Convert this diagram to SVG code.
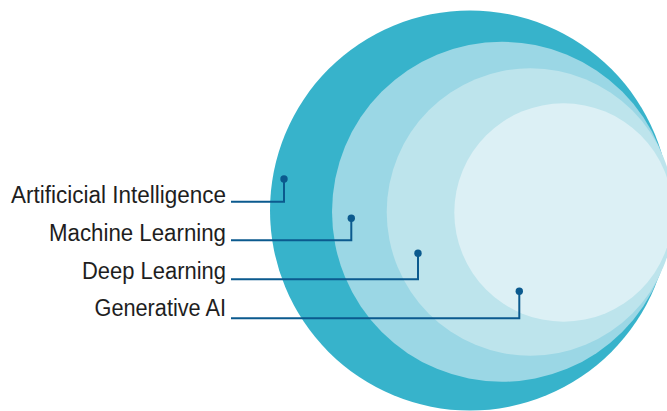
<svg xmlns="http://www.w3.org/2000/svg" width="667" height="411" viewBox="0 0 667 411">
  <style>
    .lbl { font-family: "Liberation Sans", Arial, sans-serif; font-size: 23.5px; fill: #1e1e1e; text-anchor: end; }
    .conn { fill: none; stroke: #0b5a8e; stroke-width: 2; }
    .dot { fill: #0b5a8e; }
  </style>
  <rect width="667" height="411" fill="#ffffff"/>
  <g id="ai">
    <circle cx="470" cy="210.5" r="200" fill="#37b3cb"/>
  </g>
  <g id="ml">
    <circle cx="502" cy="211.8" r="170" fill="#9bd7e5"/>
  </g>
  <g id="dl">
    <circle cx="530.5" cy="212" r="143.8" fill="#bde4ec"/>
  </g>
  <g id="genai">
    <circle cx="563.5" cy="212.5" r="109.2" fill="#dcf0f5"/>
  </g>
  <g id="labels">
    <text class="lbl" x="226" y="202.5" textLength="215" lengthAdjust="spacingAndGlyphs">Artificicial Intelligence</text>
    <text class="lbl" x="226" y="240.7" textLength="177" lengthAdjust="spacingAndGlyphs">Machine Learning</text>
    <text class="lbl" x="226" y="278.5" textLength="144" lengthAdjust="spacingAndGlyphs">Deep Learning</text>
    <text class="lbl" x="226" y="315.5" textLength="131.5" lengthAdjust="spacingAndGlyphs">Generative AI</text>
  </g>
  <g id="connectors">
    <polyline class="conn" points="231,201.7 284,201.7 284,179"/>
    <circle class="dot" cx="284" cy="179" r="3.7"/>
    <polyline class="conn" points="231,240.3 351.3,240.3 351.3,218.3"/>
    <circle class="dot" cx="351.3" cy="218.3" r="3.7"/>
    <polyline class="conn" points="231,279.3 418,279.3 418,253.3"/>
    <circle class="dot" cx="418" cy="253.3" r="3.7"/>
    <polyline class="conn" points="231,318.3 519.3,318.3 519.3,291.3"/>
    <circle class="dot" cx="519.3" cy="291.3" r="3.7"/>
  </g>
</svg>
